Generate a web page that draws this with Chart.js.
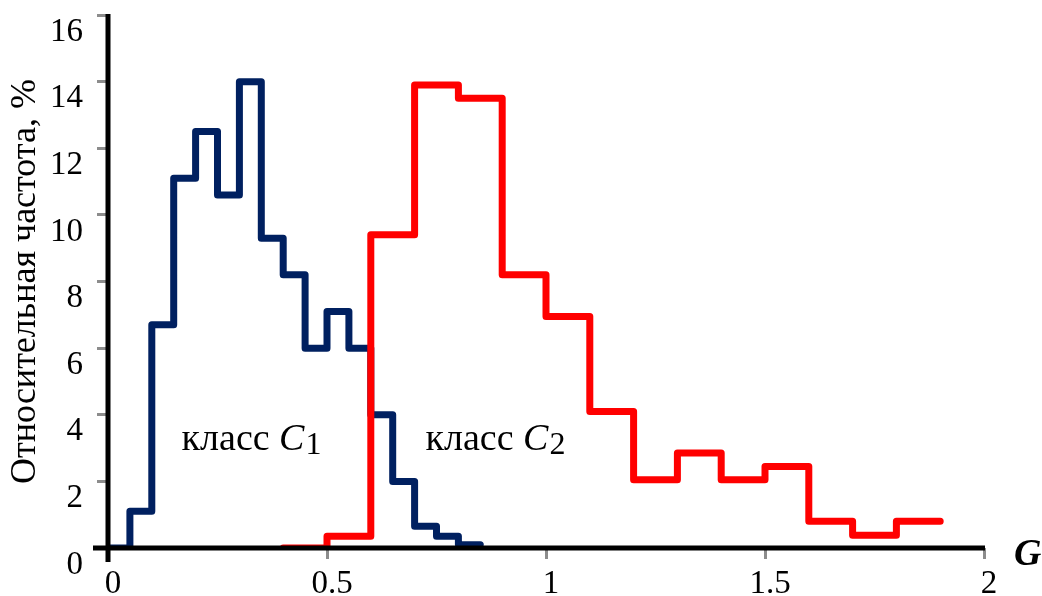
<!DOCTYPE html>
<html>
<head>
<meta charset="utf-8">
<script src="https://cdn.jsdelivr.net/npm/chart.js@4.4.1/dist/chart.umd.min.js"></script>
<style>
  html, body { margin: 0; padding: 0; background: #fff; }
</style>
</head>
<body>
<canvas id="histChart" width="1042" height="596"></canvas>
<script>
// bin edges (G) and relative frequency, %
const c1Edges = [0, 0.05, 0.1, 0.15, 0.2, 0.25, 0.3, 0.35, 0.4, 0.45, 0.5, 0.55, 0.6, 0.65, 0.7, 0.75, 0.8, 0.85];
const c1Freq  = [0, 1.1, 6.7, 11.1, 12.5, 10.6, 14.0, 9.3, 8.2, 6.0, 7.1, 6.0, 4.0, 2.0, 0.65, 0.35, 0.1];

const c2Edges = [0.4, 0.5, 0.6, 0.7, 0.8, 0.9, 1.0, 1.1, 1.2, 1.3, 1.4, 1.5, 1.6, 1.7, 1.8, 1.9];
const c2Freq  = [0, 0.35, 9.4, 13.9, 13.5, 8.2, 6.95, 4.1, 2.05, 2.85, 2.05, 2.45, 0.8, 0.38, 0.8];

const xTicks = [0, 0.5, 1, 1.5, 2];
const yTicks = [0, 2, 4, 6, 8, 10, 12, 14, 16];

const serif = '"Liberation Serif", "Times New Roman", serif';

// histogram outline: one point per bin start, plus the last bin's end
function steps(edges, freq) {
    const pts = freq.map((f, i) => ({ x: edges[i], y: f }));
    pts.push({ x: edges[edges.length - 1], y: freq[freq.length - 1] });
    return pts;
}

function drawClassLabel(ctx, px, py, sub) {
    ctx.fillStyle = '#000';
    ctx.textAlign = 'left';
    ctx.textBaseline = 'alphabetic';
    ctx.font = '38px ' + serif;
    ctx.fillText('класс ', px, py);
    let w = ctx.measureText('класс ').width;
    ctx.font = 'italic 38px ' + serif;
    ctx.fillText('C', px + w, py);
    w += ctx.measureText('C').width;
    ctx.font = '32px ' + serif;
    ctx.fillText(sub, px + w + 1, py + 4);
}

// black axes crossing at the origin + the text inside the plot
const axesPlugin = {
    id: 'axesAndNotes',
    afterDatasetsDraw(chart) {
        const { ctx, chartArea: a, scales: { x, y } } = chart;
        ctx.save();
        ctx.strokeStyle = '#000';
        ctx.lineWidth = 5;
        ctx.beginPath();
        ctx.moveTo(a.left - 15, a.bottom);
        ctx.lineTo(a.right + 1, a.bottom);
        ctx.moveTo(a.left, a.top - 1);
        ctx.lineTo(a.left, a.bottom + 14);
        ctx.stroke();

        drawClassLabel(ctx, x.getPixelForValue(0.168), y.getPixelForValue(2.95), '1');
        drawClassLabel(ctx, x.getPixelForValue(0.725), y.getPixelForValue(2.95), '2');

        ctx.font = 'italic bold 38px ' + serif;
        ctx.textAlign = 'left';
        ctx.textBaseline = 'alphabetic';
        ctx.fillText('G', a.right + 30, a.bottom + 17);
        ctx.restore();
    }
};

new Chart(document.getElementById('histChart'), {
    type: 'line',
    data: {
        datasets: [
            {
                // drawn on top of C1
                label: 'класс C2',
                data: steps(c2Edges, c2Freq),
                borderColor: '#ff0000',
                borderWidth: 7,
                stepped: 'before',
                pointRadius: 0,
                fill: false,
                borderCapStyle: 'round',
                borderJoinStyle: 'round'
            },
            {
                label: 'класс C1',
                data: steps(c1Edges, c1Freq),
                borderColor: '#002060',
                borderWidth: 7,
                stepped: 'before',
                pointRadius: 0,
                fill: false,
                borderCapStyle: 'round',
                borderJoinStyle: 'round'
            }
        ]
    },
    options: {
        responsive: false,
        animation: false,
        layout: { padding: { top: 15, right: 58, left: 0, bottom: 0 }, autoPadding: false },
        plugins: { legend: { display: false }, tooltip: { enabled: false } },
        scales: {
            x: {
                type: 'linear',
                min: 0,
                max: 2,
                afterBuildTicks: s => { s.ticks = xTicks.map(v => ({ value: v })); },
                afterFit: s => { s.height = 48; s.paddingLeft = 0; s.paddingRight = 0; },
                border: { display: false },
                grid: { drawOnChartArea: false, drawTicks: true, tickLength: 11, color: '#8c8c8c', lineWidth: 3 },
                ticks: {
                    color: '#000',
                    font: { family: serif, size: 33 },
                    padding: 6,
                    labelOffset: 5,
                    maxRotation: 0,
                    autoSkip: false,
                    callback: v => String(v)
                }
            },
            y: {
                min: 0,
                max: 16,
                afterBuildTicks: s => { s.ticks = yTicks.map(v => ({ value: v })); },
                afterFit: s => { s.width = 108; s.paddingTop = 0; s.paddingBottom = 0; },
                border: { display: false },
                grid: { drawOnChartArea: false, drawTicks: true, tickLength: 11, color: '#8c8c8c', lineWidth: 3 },
                ticks: {
                    color: '#000',
                    font: { family: serif, size: 33 },
                    padding: 14,
                    labelOffset: 17,
                    autoSkip: false,
                    callback: v => String(v)
                },
                title: {
                    display: true,
                    text: 'Относительная частота, %',
                    color: '#000',
                    font: { family: serif, size: 36, lineHeight: 1.2 },
                    padding: { top: 4, bottom: 0 }
                }
            }
        }
    },
    plugins: [axesPlugin]
});
</script>
</body>
</html>
